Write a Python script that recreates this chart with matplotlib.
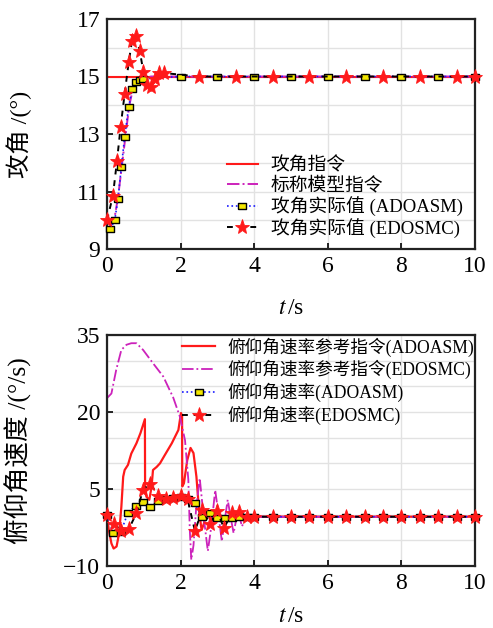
import matplotlib
matplotlib.use("Agg")
import matplotlib.pyplot as plt
import numpy as np

plt.rcParams['font.family'] = ['Liberation Serif', 'Noto Sans CJK SC', 'DejaVu Sans']
plt.rcParams['mathtext.fontset'] = 'stix'
plt.rcParams['axes.unicode_minus'] = True

FAM = ['Liberation Serif', 'Noto Sans CJK SC', 'DejaVu Sans']

# ---------------- top panel data: angle of attack ----------------
top_legend = ['攻角指令', '标称模型指令', '攻角实际值 (ADOASM)', '攻角实际值 (EDOSMC)']

t_cmd = [0, 10]
aoa_cmd = [15, 15]

t_nom = [0.05, 0.1, 0.2, 0.3, 0.4, 0.5, 0.6, 0.7, 0.8, 0.9, 1.0, 1.2, 10]
aoa_nom = [9.9, 9.8, 10.05, 10.8, 11.85, 12.9, 13.95, 14.55, 14.8, 14.9, 14.95, 15.0, 15.0]

t_ad = [0.09, 0.21, 0.3, 0.39, 0.48, 0.59, 0.68, 0.8, 0.89, 0.98,
        2, 3, 4, 5, 6, 7, 8, 9, 10]
aoa_ad = [9.7, 10.0, 10.75, 11.85, 12.9, 13.95, 14.55, 14.8, 14.88, 14.92,
          15, 15, 15, 15, 15, 15, 15, 15, 15]

t_ed = [0.0, 0.16, 0.27, 0.37, 0.48, 0.59, 0.68, 0.78, 0.89, 0.99, 1.1, 1.2, 1.31, 1.42, 1.55,
        2.5, 3.5, 4.5, 5.5, 6.5, 7.5, 8.5, 9.5, 10]
aoa_ed = [10.0, 10.85, 12.05, 13.25, 14.4, 15.5, 16.25, 16.4, 15.9, 15.15, 14.7, 14.65, 14.9, 15.12, 15.12,
          15, 15, 15, 15, 15, 15, 15, 15, 15]

# ---------------- bottom panel data: pitch rate ----------------
bot_legend = ['俯仰角速率参考指令(ADOASM)', '俯仰角速率参考指令(EDOSMC)',
              '俯仰角速率(ADOASM)', '俯仰角速率(EDOSMC)']

t_ref_ad = [0, 0.05, 0.12, 0.18, 0.26, 0.33, 0.39, 0.44, 0.48, 0.57, 0.66, 0.8, 0.91, 1.03, 1.035,
            1.07, 1.15, 1.21, 1.25, 1.35, 1.44, 1.57, 1.76, 1.94, 2.01, 2.04, 2.045, 2.09, 2.18,
            2.27, 2.35, 2.43, 2.5, 2.57, 2.64, 2.7, 2.8, 2.9, 3.0, 10]
q_ref_ad = [0, -3, -5.6, -6.6, -6.2, -3.6, 1.5, 7.4, 8.7, 9.7, 11.9, 13.9, 15.9, 18.6, 5.1,
            3.5, 2.9, 5.4, 8.7, 9.3, 10, 11.6, 13.9, 16.5, 19.8, 19.3, 5.5, 6.1, 10.6,
            13.0, 12.0, 7.4, 0.9, -3, -1.6, 0.8, -0.8, 0, -0.4, -0.4]

t_ref_ed = [0, 0.12, 0.25, 0.39, 0.53, 0.66, 0.8, 0.98, 1.25, 1.53, 1.8, 1.98, 2.12, 2.21, 2.25,
            2.29, 2.35, 2.42, 2.52, 2.62, 2.74, 2.84, 2.94, 3.03, 3.12, 3.2, 3.28, 3.36, 3.44,
            3.51, 3.57, 3.62, 3.67, 3.75, 3.85, 10]
q_ref_ed = [22.7, 23.6, 28.2, 32.1, 33.1, 33.4, 33.4, 32.1, 29.5, 26.9, 22.8, 19.1, 14.5, 6.8, -3,
            -8.8, -6, 1, 7.1, 0, -7.1, -2, 4.8, 0, -5.2, -1, 2.9, -0.5, -3.6,
            -1, 0.9, -1, -2.3, -0.5, -0.4, -0.4]

t_q_ad = [0, 0.16, 0.38, 0.57, 0.78, 0.98, 1.18, 1.39, 1.6, 1.8, 2.0, 2.19, 2.39, 2.59, 2.8,
          3.0, 3.2, 3.4, 3.6, 3.8, 4.0, 4.5, 5.0, 5.5, 6.0, 6.5, 7.0, 7.5, 8.0, 8.5, 9.0, 9.5, 10.0]
q_ad = [0, -3.6, -3.3, 0.4, 1.7, 2.5, 1.4, 2.7, 3.0, 3.2, 3.5, 3.05, 2.3, -0.5, 0.3,
        -0.6, -0.6, -0.6, -0.5, -0.4, -0.4, -0.4, -0.4, -0.4, -0.4, -0.4, -0.4, -0.4, -0.4, -0.4, -0.4, -0.4, -0.4]

t_q_ed = [0, 0.18, 0.39, 0.6, 0.8, 0.98, 1.18, 1.39, 1.6, 1.8, 2.0, 2.19, 2.39, 2.59, 2.8,
          2.98, 3.18, 3.39, 3.6, 3.8, 4.0, 4.5, 5.0, 5.5, 6.0, 6.5, 7.0, 7.5, 8.0, 8.5, 9.0, 9.5, 10.0]
q_ed = [0, -1.8, -3.1, -2.7, 0.3, 4.9, 6.0, 3.7, 3.0, 3.3, 3.6, 3.0, -3.2, 1.0, -1.8,
        0.8, -2.6, 0.3, 0.6, -0.4, -0.4, -0.4, -0.4, -0.4, -0.4, -0.4, -0.4, -0.4, -0.4, -0.4, -0.4, -0.4, -0.4]

# ---------------- styling ----------------
RED = '#ff1a1a'
MAG = '#cc22bb'
BLUE = '#1a1aff'
YEL = '#f2e600'
rect = [(-1.5, -1), (1.5, -1), (1.5, 1), (-1.5, 1), (-1.5, -1)]

fig = plt.figure(figsize=(4.93, 6.28), dpi=100)
ax1 = fig.add_axes([107 / 493, 1 - 249 / 628, 368 / 493, 230 / 628])
ax2 = fig.add_axes([107 / 493, 1 - 566 / 628, 368 / 493, 231 / 628])

def style(ax, xpad):
    ax.set_xlim(0, 10)
    ax.set_xticks([0, 2, 4, 6, 8, 10])
    ax.grid(True, which='both', color='#e2e2e2', lw=1.0)
    ax.grid(False, which='minor', axis='x')
    ax.set_axisbelow(True)
    ax.tick_params(which='major', direction='in', length=4, width=1.2, labelsize=17,
                   top=False, right=False, pad=5)
    ax.tick_params(which='minor', length=0)
    for s in ax.spines.values():
        s.set_linewidth(1.6)
        s.set_color('#222222')
    for lab in ax.get_xticklabels() + ax.get_yticklabels():
        lab.set_family(FAM)
    ax.set_xlabel('$t\\,$/s', fontsize=17, labelpad=xpad)

# top panel
ax1.plot(t_cmd, aoa_cmd, color=RED, lw=1.5, label=top_legend[0])
ax1.plot(t_nom, aoa_nom, color=MAG, lw=1.4, ls='-.', label=top_legend[1])
ax1.plot(t_ad, aoa_ad, color=BLUE, lw=1.2, ls=':', marker=rect, ms=5.5, mfc=YEL,
         mec='black', mew=1.0, label=top_legend[2], clip_on=False, zorder=3)
ax1.plot(t_ed, aoa_ed, color='black', lw=1.4, ls='--', dashes=(3, 3), marker='*', ms=11,
         mfc=RED, mec=RED, mew=0.6, label=top_legend[3], clip_on=False, zorder=4)
ax1.set_ylim(9, 17)
ax1.set_yticks([9, 11, 13, 15, 17])
ax1.set_yticks(np.arange(9, 17.1, 1), minor=True)
style(ax1, 15)
ax1.set_ylabel('攻角 /(°)', fontsize=17.5, family=FAM)
ax1.yaxis.set_label_coords(-0.205, 0.5)
leg1 = ax1.legend(loc='upper left', bbox_to_anchor=(0.315, 0.415), frameon=False,
                  prop={'family': FAM, 'size': 13.5}, handlelength=1.65, handletextpad=0.7,
                  labelspacing=0.1, borderaxespad=0, borderpad=0.2)

# bottom panel
ax2.plot(t_ref_ad, q_ref_ad, color=RED, lw=1.6, label=bot_legend[0])
ax2.plot(t_ref_ed, q_ref_ed, color=MAG, lw=1.3, ls='-.', label=bot_legend[1])
ax2.plot(t_q_ad, q_ad, color=BLUE, lw=1.2, ls=':', marker=rect, ms=5.5, mfc=YEL,
         mec='black', mew=1.0, label=bot_legend[2], clip_on=False, zorder=3)
ax2.plot(t_q_ed, q_ed, color='black', lw=1.4, ls='--', dashes=(3, 3), marker='*', ms=11,
         mfc=RED, mec=RED, mew=0.6, label=bot_legend[3], clip_on=False, zorder=4)
ax2.set_ylim(-10, 35)
ax2.set_yticks([-10, 5, 20, 35])
ax2.set_yticks(np.arange(-10, 35.1, 5), minor=True)
style(ax2, 9)
ax2.set_ylabel('俯仰角速度 /(°/s)', fontsize=18.5, family=FAM)
ax2.yaxis.set_label_coords(-0.205, 0.5)
leg2 = ax2.legend(loc='upper left', bbox_to_anchor=(0.195, 1.005), frameon=False,
                  prop={'family': FAM, 'size': 12.7}, handlelength=1.85, handletextpad=0.7,
                  labelspacing=0.2, borderaxespad=0, borderpad=0.2)

fig.savefig('out.png', dpi=100)
